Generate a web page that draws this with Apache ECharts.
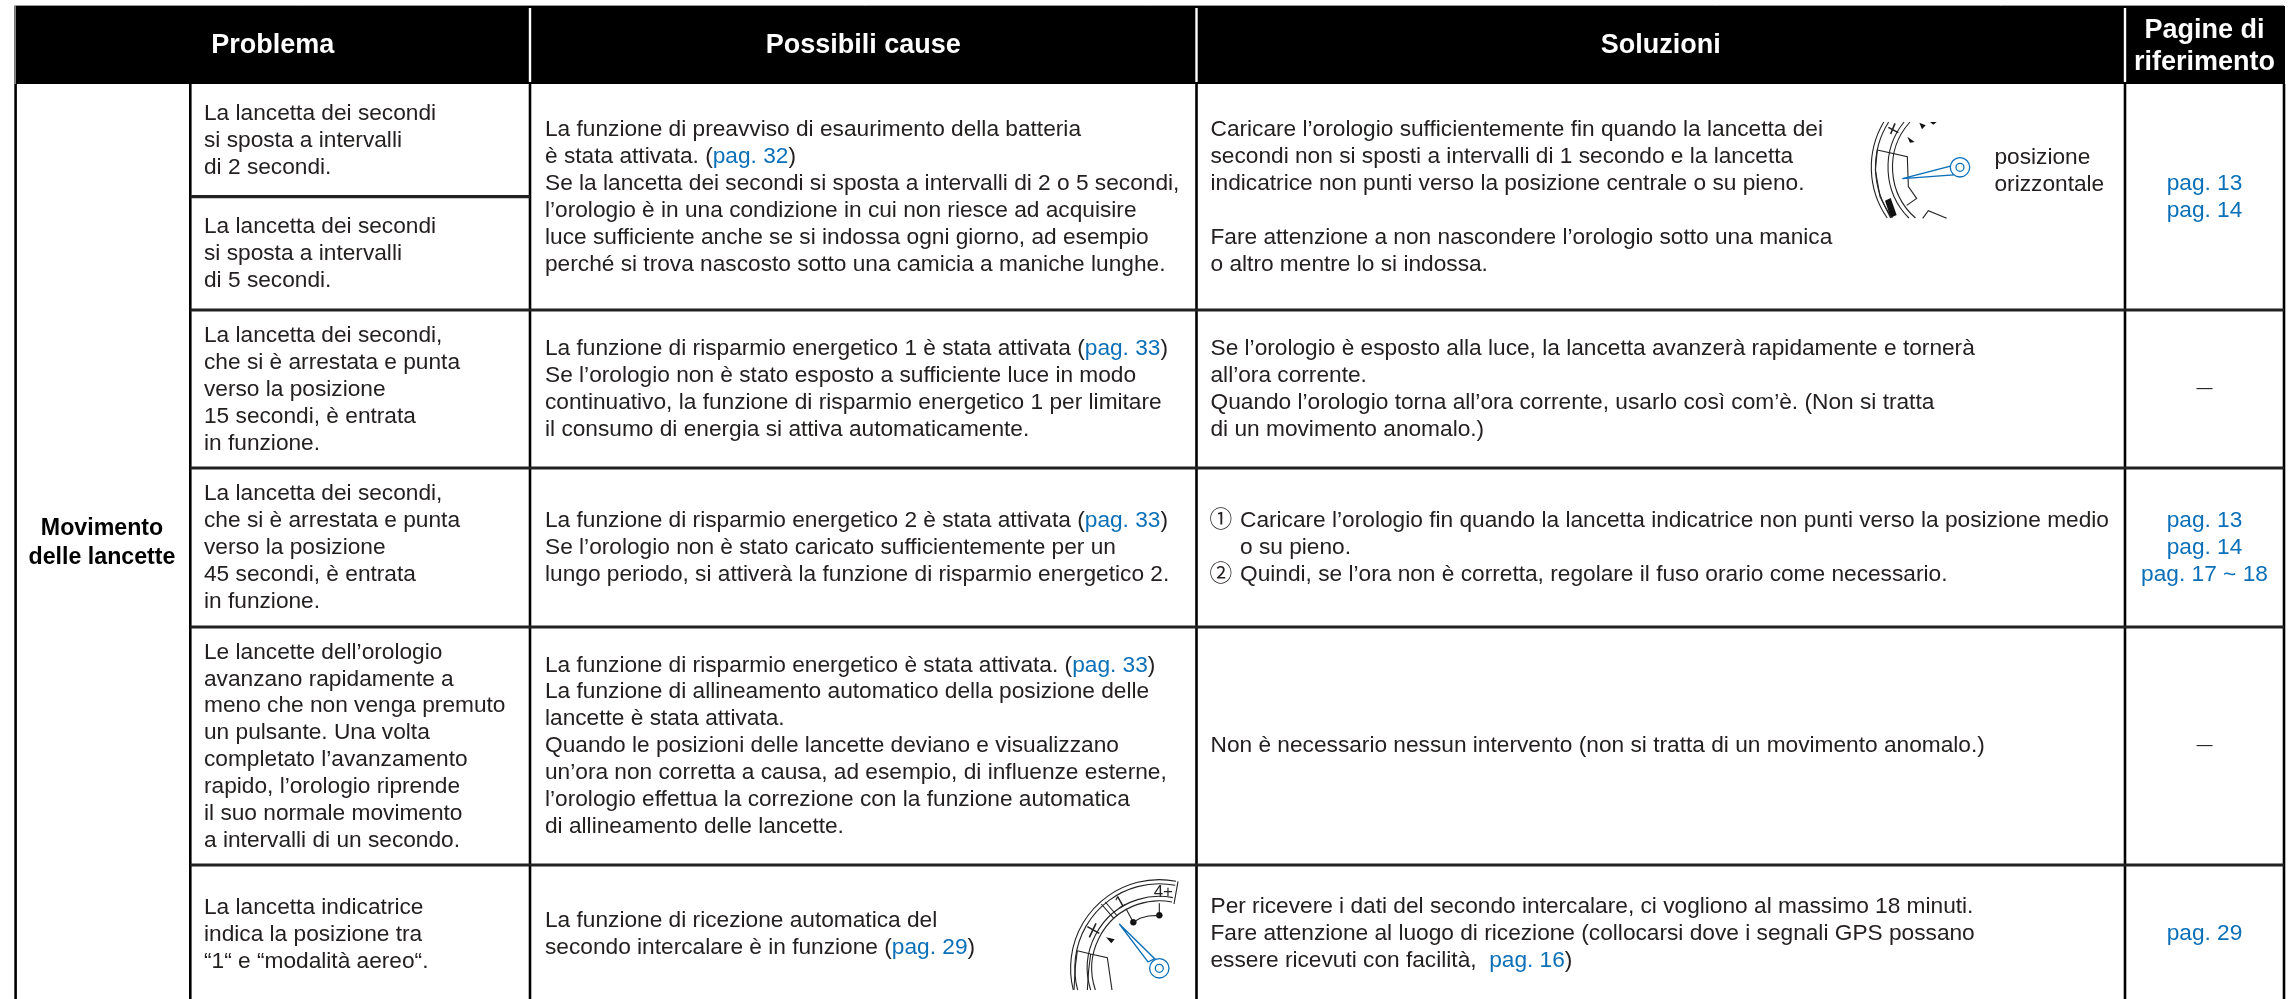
<!DOCTYPE html>
<html><head><meta charset="utf-8">
<style>html,body{margin:0;padding:0;background:#fff}#c{width:2293px;height:999px}</style>
<script src="https://cdn.jsdelivr.net/npm/echarts@6/dist/echarts.min.js"></script>
</head><body><div id="c"></div>
<script>
// ---- table content ----
const headers = ["Problema", "Possibili cause", "Soluzioni", "Pagine di\nriferimento"];
const groupLabel = "Movimento\ndelle lancette";
const problems = [
  "La lancetta dei secondi\nsi sposta a intervalli\ndi 2 secondi.",
  "La lancetta dei secondi\nsi sposta a intervalli\ndi 5 secondi.",
  "La lancetta dei secondi,\nche si è arrestata e punta\nverso la posizione\n15 secondi, è entrata\nin funzione.",
  "La lancetta dei secondi,\nche si è arrestata e punta\nverso la posizione\n45 secondi, è entrata\nin funzione.",
  "Le lancette dell’orologio\navanzano rapidamente a\nmeno che non venga premuto\nun pulsante. Una volta\ncompletato l’avanzamento\nrapido, l’orologio riprende\nil suo normale movimento\na intervalli di un secondo.",
  "La lancetta indicatrice\nindica la posizione tra\n“1“ e “modalità aereo“."
];
const causes = [
  "La funzione di preavviso di esaurimento della batteria\nè stata attivata. ([pag. 32])\nSe la lancetta dei secondi si sposta a intervalli di 2 o 5 secondi,\nl’orologio è in una condizione in cui non riesce ad acquisire\nluce sufficiente anche se si indossa ogni giorno, ad esempio\nperché si trova nascosto sotto una camicia a maniche lunghe.",
  "La funzione di risparmio energetico 1 è stata attivata ([pag. 33])\nSe l’orologio non è stato esposto a sufficiente luce in modo\ncontinuativo, la funzione di risparmio energetico 1 per limitare\nil consumo di energia si attiva automaticamente.",
  "La funzione di risparmio energetico 2 è stata attivata ([pag. 33])\nSe l’orologio non è stato caricato sufficientemente per un\nlungo periodo, si attiverà la funzione di risparmio energetico 2.",
  "La funzione di risparmio energetico è stata attivata. ([pag. 33])\nLa funzione di allineamento automatico della posizione delle\nlancette è stata attivata.\nQuando le posizioni delle lancette deviano e visualizzano\nun’ora non corretta a causa, ad esempio, di influenze esterne,\nl’orologio effettua la correzione con la funzione automatica\ndi allineamento delle lancette.",
  "La funzione di ricezione automatica del\nsecondo intercalare è in funzione ([pag. 29])"
];
const solutions = [
  "Caricare l’orologio sufficientemente fin quando la lancetta dei\nsecondi non si sposti a intervalli di 1 secondo e la lancetta\nindicatrice non punti verso la posizione centrale o su pieno.\n \nFare attenzione a non nascondere l’orologio sotto una manica\no altro mentre lo si indossa.",
  "Se l’orologio è esposto alla luce, la lancetta avanzerà rapidamente e tornerà\nall’ora corrente.\nQuando l’orologio torna all’ora corrente, usarlo così com’è. (Non si tratta\ndi un movimento anomalo.)",
  "Caricare l’orologio fin quando la lancetta indicatrice non punti verso la posizione medio\no su pieno.\nQuindi, se l’ora non è corretta, regolare il fuso orario come necessario.",
  "Non è necessario nessun intervento (non si tratta di un movimento anomalo.)",
  "Per ricevere i dati del secondo intercalare, ci vogliono al massimo 18 minuti.\nFare attenzione al luogo di ricezione (collocarsi dove i segnali GPS possano\nessere ricevuti con facilità,  [pag. 16])"
];
const stepMarks = "①\n \n②";
const references = ["[pag. 13]\n[pag. 14]", "—", "[pag. 13]\n[pag. 14]\n[pag. 17 ~ 18]", "—", "[pag. 29]"];
const dialNote = "posizione\norizzontale";

// ---- layout ----
const W = 2293, H = 999;
const colX = [15.6, 190.3, 530, 1196.5, 2125, 2284];
const headTop = 6, headBottom = 84;
const rowY = [84, 310, 468, 627, 865, 1003];
const problemY = [84, 196.7, 310, 468, 627, 865, 1003];
const padX = 14;
const INK = "#242020", BLUE = "#0b70b8";
const FONT = '"Liberation Sans","Noto Sans CJK JP",sans-serif';
const bodySize = 22.7, lineH = 26.9;

function rich(text) {
  if (text === "—") return "{d|—}";
  return text.split("\n").map(l =>
    l.split(/(\[[^\]]*\])/).filter(s => s).map(s =>
      s[0] === "[" ? "{l|" + s.slice(1, -1) + "}" : "{t|" + s + "}").join("")
  ).join("\n");
}
const richStyles = {
  t: {fontSize: bodySize, lineHeight: lineH, fill: INK, fontFamily: FONT},
  l: {fontSize: bodySize, lineHeight: lineH, fill: BLUE, fontFamily: FONT},
  d: {fontSize: 16, lineHeight: lineH, fill: INK, fontFamily: FONT}
};
function bodyText(x, y, text, align) {
  return {type: "text", x, y, silent: true, style: {
    text: rich(text), rich: richStyles, align: align || "left", verticalAlign: "middle",
    fontSize: bodySize, lineHeight: lineH, fontFamily: FONT, fill: INK}};
}

// rules of the table: [x0, y0, x1, y1, width, colour]
const rules = [
  [14.5, headTop - 0.5, colX[5], headTop - 0.5, 1, "#999"],
  [14.8, headTop, 14.8, headBottom, 1.6, "#777"],
  [colX[0], headBottom, colX[0], H, 2.6, "#000"],
  [colX[1], headBottom, colX[1], H, 2.6, "#000"],
  [colX[2], headBottom, colX[2], H, 2.6, "#000"],
  [colX[3], headBottom, colX[3], H, 2.6, "#000"],
  [colX[4], headBottom, colX[4], H, 2.6, "#000"],
  [colX[5], headBottom, colX[5], H, 2.6, "#000"],
  [colX[2], 8, colX[2], 82, 2.4, "#fff"],
  [colX[3], 8, colX[3], 82, 2.4, "#fff"],
  [colX[4], 8, colX[4], 82, 2.4, "#fff"],
  [colX[1], problemY[1], colX[2], problemY[1], 3.2, "#222"],
  [colX[1], rowY[1], colX[5], rowY[1], 3.2, "#222"],
  [colX[1], rowY[2], colX[5], rowY[2], 3.2, "#222"],
  [colX[1], rowY[3], colX[5], rowY[3], 3.2, "#222"],
  [colX[1], rowY[4], colX[5], rowY[4], 3.2, "#222"]
];

const fn = {mid: (a, b) => (a + b) / 2};
function tableItem(params, api) {
  const P = (x, y) => api.coord([x, y]);
  const kids = [];
  const head = P(colX[0], headTop), headEnd = P(colX[5] + 1, headBottom);
  kids.push({type: "rect", silent: true, shape: {x: head[0], y: head[1], width: headEnd[0] - head[0], height: headEnd[1] - head[1]}, style: {fill: "#000"}});
  rules.forEach(r => {
    const a = P(r[0], r[1]), b = P(r[2], r[3]);
    kids.push({type: "line", silent: true, shape: {x1: a[0], y1: a[1], x2: b[0], y2: b[1]}, style: {stroke: r[5], lineWidth: r[4]}});
  });
  // headers
  const hx = [fn.mid(colX[0], colX[2]), fn.mid(colX[2], colX[3]), fn.mid(colX[3], colX[4]), fn.mid(colX[4], colX[5])];
  headers.forEach((h, i) => {
    const p = P(hx[i], fn.mid(headTop, headBottom) + (i === 3 ? 1.5 : 1));
    kids.push({type: "text", silent: true, x: p[0], y: p[1], style: {text: h, fill: "#fff", fontFamily: FONT, fontWeight: "bold", fontSize: 27, lineHeight: 32, align: "center", verticalAlign: "middle"}});
  });
  const g = P(102, 543.5);
  kids.push({type: "text", silent: true, x: g[0], y: g[1], style: {text: groupLabel, fill: "#000", fontFamily: FONT, fontWeight: "bold", fontSize: 23.2, lineHeight: 29, align: "center", verticalAlign: "middle"}});
  // cells
  problems.forEach((t, i) => { const p = P(204, fn.mid(problemY[i], problemY[i + 1]) + 0.5); kids.push(bodyText(p[0], p[1], t)); });
  causes.forEach((t, i) => { const p = P(colX[2] + 15, fn.mid(rowY[i], rowY[i + 1])); kids.push(bodyText(p[0], p[1], t)); });
  solutions.forEach((t, i) => {
    const p = P(i === 2 ? 1240 : 1210.5, fn.mid(rowY[i], rowY[i + 1]));
    kids.push(bodyText(p[0], p[1], t));
    if (i === 2) { const m = P(1209.5, fn.mid(rowY[i], rowY[i + 1])); kids.push(bodyText(m[0], m[1], stepMarks)); }
  });
  references.forEach((t, i) => { const p = P(fn.mid(colX[4], colX[5]), fn.mid(rowY[i], rowY[i + 1])); kids.push(bodyText(p[0], p[1], t, "center")); });
  const n = P(1994.5, 171.5);
  kids.push(bodyText(n[0], n[1], dialNote));
  return {type: "group", children: kids};
}

// ---- dial illustrations ----
const radii = [88.7, 84.5, 72, 67.5];
function arc(cx, cy, r, a0, a1, w) {
  return {type: "arc", silent: true, shape: {cx, cy, r, startAngle: a0, endAngle: a1, clockwise: true}, style: {fill: null, stroke: "#222", lineWidth: w || 1.1}};
}
function poly(pts, stroke, w, fill) {
  return {type: "polyline", silent: true, shape: {points: pts}, style: {stroke: stroke || "#222", lineWidth: w || 1.1, fill: fill || null}};
}
function polygon(pts, fill, stroke, w) {
  return {type: "polygon", silent: true, shape: {points: pts}, style: {fill: fill, stroke: stroke || null, lineWidth: w || 0}};
}
function circle(cx, cy, r, stroke, w, fill) {
  return {type: "circle", silent: true, shape: {cx, cy, r}, style: {stroke, lineWidth: w, fill: fill || null}};
}
function hand(cx, cy, tip, a, b) {
  return [
    polygon([tip, a, b], "#fff", BLUE, 1.3),
    circle(cx, cy, 9.7, BLUE, 1.3, "#fff"),
    circle(cx, cy, 4, BLUE, 1.3, "#fff")
  ];
}
function dialOne(params, api) {
  const P = (x, y) => api.coord([x, y]);
  const Q = (zx, zy) => P(1800 + zx / 3, 90 + zy / 3);
  const c = P(1960, 167.3), top = 122, bot = 218;
  const kids = radii.map(r => {
    const a0 = Math.PI - Math.asin(Math.min(1, (bot - 167.3) / r));
    const a1 = Math.PI + Math.asin(Math.min(1, (167.3 - top) / r));
    return arc(c[0], c[1], r, a0, a1);
  });
  kids.push(poly([Q(232, 180), Q(322, 200), Q(325, 290), Q(350, 325), Q(320, 346)]));
  kids.push(poly([Q(232, 180), Q(226, 240), Q(240, 320), Q(272, 384)]));
  kids.push(polygon([Q(255, 332), Q(272, 324), Q(290, 375), Q(272, 383)], "#111"));
  kids.push(poly([Q(368, 385), Q(385, 362), Q(440, 385)]));
  kids.push(poly([Q(265, 112), Q(295, 128)], "#222", 1.6), poly([Q(285, 100), Q(272, 132)], "#222", 1.6));
  kids.push(polygon([Q(322, 140), Q(344, 156), Q(330, 158)], "#111"));
  kids.push(polygon([Q(358, 98), Q(377, 106), Q(366, 118)], "#111"));
  kids.push(polygon([Q(390, 96), Q(410, 96), Q(400, 104)], "#111"));
  hand(c[0], c[1], Q(307, 266), Q(452, 228), Q(460, 255)).forEach(k => kids.push(k));
  return {type: "group", children: kids};
}
function dialTwo(params, api) {
  const P = (x, y) => api.coord([x, y]);
  const Q = (zx, zy) => P(1000 + zx / 3, 880 + zy / 3);
  const cy0 = 968.3, c = P(1159.3, cy0), bot = 990;
  const endA = Math.PI * 1.5 + 0.19;
  const kids = radii.map(r => {
    const a0 = Math.PI - Math.asin((bot - cy0) / r);
    return arc(c[0], c[1], r, a0, endA);
  });
  kids.push(poly([Q(534, 4), Q(522, 72)]));
  kids.push(poly([Q(304, 72), Q(342, 116)]), poly([Q(316, 66), Q(352, 108)]));
  kids.push(poly([Q(232, 212), Q(272, 222), Q(322, 233), Q(336, 330)]));
  kids.push(poly([Q(222, 330), Q(226, 260), Q(232, 212)]));
  kids.push(poly([Q(262, 330), Q(266, 270), Q(272, 222)]));
  kids.push(poly([Q(400, 127), Q(378, 86)]), poly([Q(478, 106), Q(478, 70)]));
  kids.push(circle(Q(400, 127)[0], Q(400, 127)[1], 3, "#111", 0.5, "#111"));
  kids.push(circle(Q(478, 106)[0], Q(478, 106)[1], 3, "#111", 0.5, "#111"));
  kids.push(poly([Q(400, 127), Q(420, 115), Q(445, 108), Q(478, 106)]));
  kids.push(poly([Q(262, 140), Q(298, 160)], "#222", 1.6), poly([Q(288, 130), Q(268, 172)], "#222", 1.6));
  kids.push(polygon([Q(318, 172), Q(344, 178), Q(334, 190)], "#111"));
  const one = Q(362, 68), four = Q(490, 36);
  kids.push({type: "text", silent: true, x: one[0], y: one[1], rotation: 0.5, style: {text: "1", fontFamily: FONT, fontSize: 17, fill: "#222", align: "center", verticalAlign: "middle"}});
  kids.push({type: "text", silent: true, x: four[0], y: four[1], style: {text: "4+", fontFamily: FONT, fontSize: 17, fill: "#222", align: "center", verticalAlign: "middle"}});
  hand(c[0], c[1], Q(358, 132), Q(444, 246), Q(464, 236)).forEach(k => kids.push(k));
  return {type: "group", children: kids};
}

const chart = echarts.init(document.getElementById("c"), null, {renderer: "canvas"});
chart.setOption({
  animation: false,
  backgroundColor: "#fff",
  tooltip: {show: false},
  grid: {left: 0, right: 0, top: 0, bottom: 0},
  xAxis: {type: "value", min: 0, max: W, show: false},
  yAxis: {type: "value", min: 0, max: H, inverse: true, show: false},
  series: [
    {type: "custom", coordinateSystem: "cartesian2d", clip: false, silent: true, data: [[0, 0]], renderItem: tableItem},
    {type: "custom", coordinateSystem: "cartesian2d", clip: false, silent: true, data: [[0, 0]], renderItem: dialOne},
    {type: "custom", coordinateSystem: "cartesian2d", clip: false, silent: true, data: [[0, 0]], renderItem: dialTwo}
  ]
});
</script></body></html>
